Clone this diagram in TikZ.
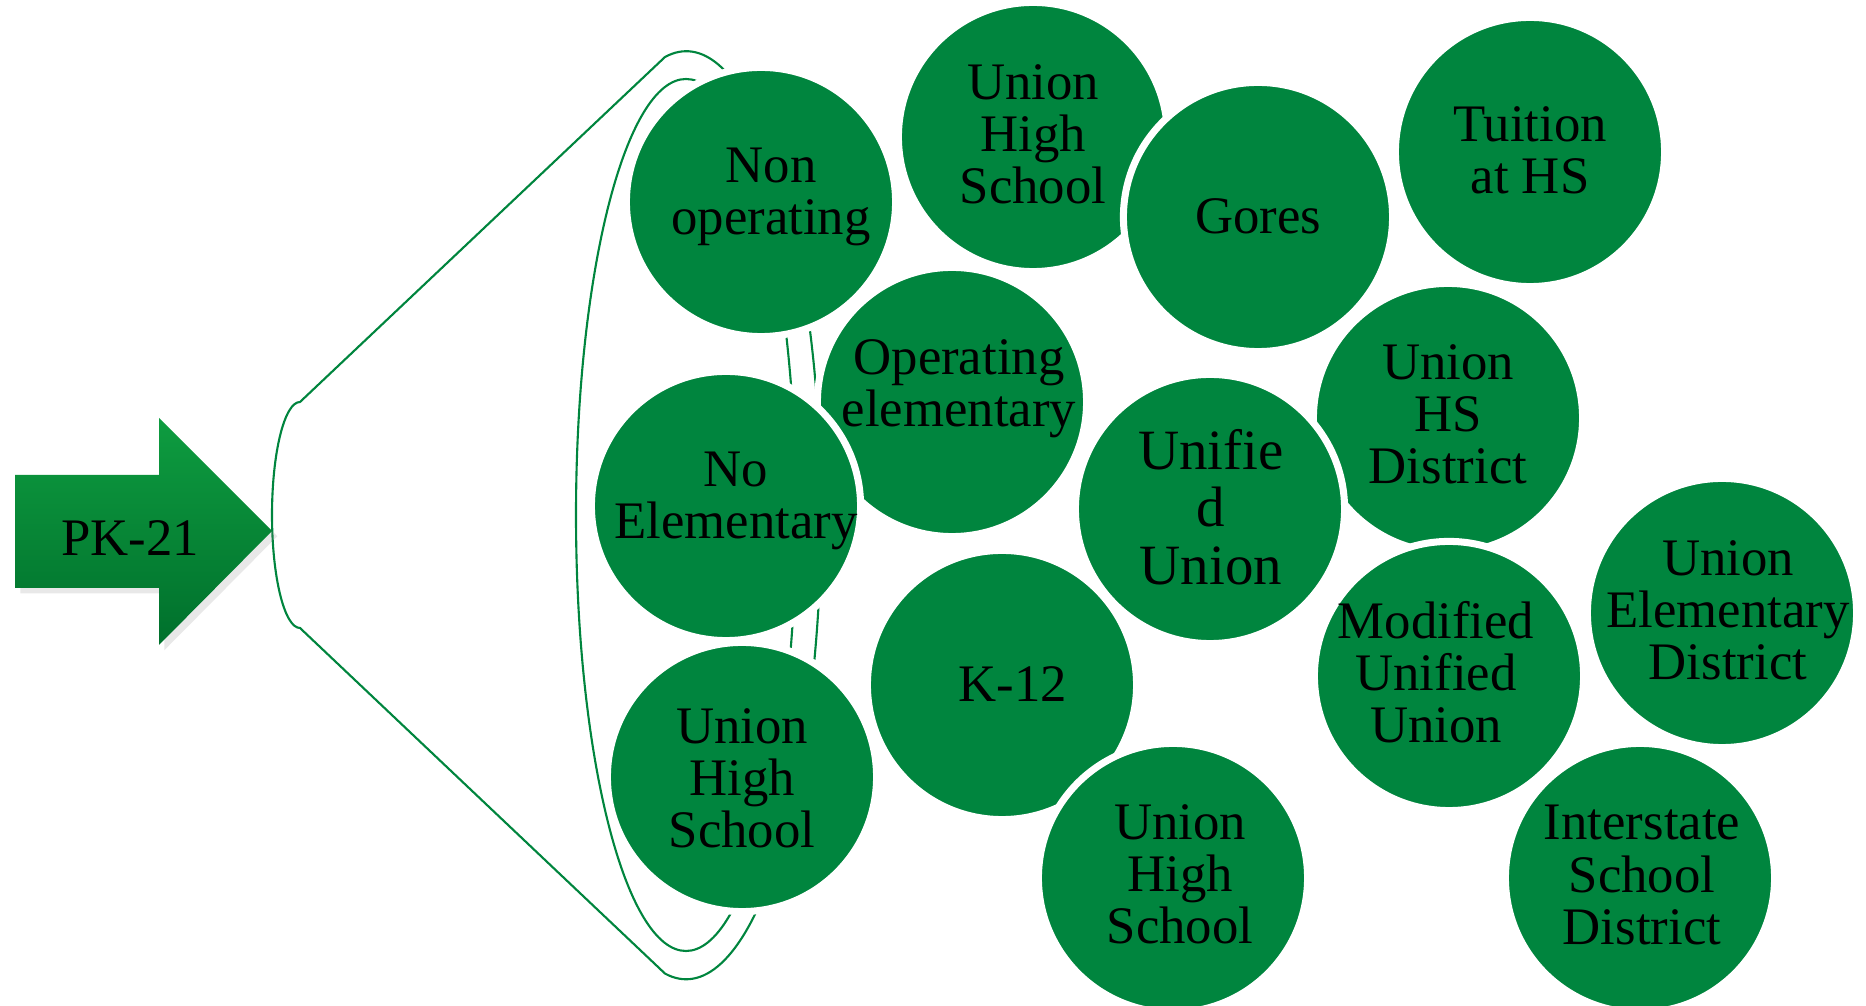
\documentclass[tikz,border=0pt]{standalone}
\usepackage{fontspec}
\setmainfont{Liberation Serif}
\usepackage{xcolor}
\usetikzlibrary{shadows}

\definecolor{schoolgreen}{RGB}{0,133,62}
\definecolor{arrowtop}{RGB}{14,156,64}
\definecolor{arrowbot}{RGB}{0,112,44}

\begin{document}
\begin{tikzpicture}[x=0.01cm, y=0.01cm,
  district/.style={circle, fill=schoolgreen, draw=white, line width=2pt,
    minimum size=2.69cm, inner sep=0pt},
  districttext/.style={align=center, inner sep=0pt,
    font=\fontsize{15}{14.8}\selectfont},
  rim/.style={draw=schoolgreen, line width=0.6pt}]
\useasboundingbox (0,0) rectangle (1866,1006);

% funnel and its rim
\draw[rim] (300,604) -- (665,949)
  arc[start angle=99, end angle=-99, x radius=135, y radius=464]
  -- (300,378) arc[start angle=270, end angle=90, x radius=28, y radius=113] -- cycle;
\draw[rim] (686,491) ellipse [x radius=110, y radius=436];

% arrow
\path[top color=arrowtop, bottom color=arrowbot,
  drop shadow={shadow xshift=1.5pt, shadow yshift=-1.5pt, opacity=0.18}]
  (15,531) -- (159,531) -- (159,588) -- (272,475) -- (159,361) -- (159,418) -- (15,418) -- cycle;
\node[districttext] (pk) at (130,468) {PK-21};

% districts, each circle followed by its text
\node[district] (nonop) at (761,804) {};
\node[districttext] (nonop-t) at ([shift={(10,5)}]nonop) {Non\\operating};
\node[district] (uhsa) at (1033,869) {};
\node[districttext] (uhsa-t) at ([shift={(0,3)}]uhsa) {Union\\High\\School};
\node[district] (gores) at (1258,789) {};
\node[districttext] (gores-t) at ([shift={(0,1)}]gores) {Gores};
\node[district] (tuition) at (1530,854) {};
\node[districttext] (tuition-t) at ([shift={(0,2)}]tuition) {Tuition\\at HS};
\node[district] (opelem) at (952,604) {};
\node[districttext] (opelem-t) at ([shift={(7,13)}]opelem) {Operating\\elementary};
\node[district] (noelem) at (726,500) {};
\node[districttext] (noelem-t) at ([shift={(10,5)}]noelem) {No\\Elementary};
\node[district] (uhsdist) at (1448,588) {};
\node[districttext] (uhsdist-t) at ([shift={(0,4)}]uhsdist) {Union\\HS\\District};
\node[district] (unified) at (1210,497) {};
\node[districttext, font=\fontsize{16.2}{16.3}\selectfont] (unified-t) at ([shift={(1,2)}]unified) {Unifie\\d\\Union};
\node[district] (uhsb) at (742,229) {};
\node[districttext] (uhsb-t) at ([shift={(0,-1)}]uhsb) {Union\\High\\School};
\node[district] (kt) at (1002,321) {};
\node[districttext] (kt-t) at ([shift={(11,1)}]kt) {K-12};
\node[district] (modunified) at (1449,330) {};
\node[districttext] (modunified-t) at ([shift={(-13,4)}]modunified) {Modified\\Unified\\Union};
\node[district] (uelemdist) at (1722,393) {};
\node[districttext] (uelemdist-t) at ([shift={(6,3)}]uelemdist) {Union\\Elementary\\District};
\node[district] (uhsc) at (1173,128) {};
\node[districttext] (uhsc-t) at ([shift={(7,4)}]uhsc) {Union\\High\\School};
\node[district] (interstate) at (1640,128) {};
\node[districttext] (interstate-t) at ([shift={(2,3)}]interstate) {Interstate\\School\\District};
\end{tikzpicture}
\end{document}
